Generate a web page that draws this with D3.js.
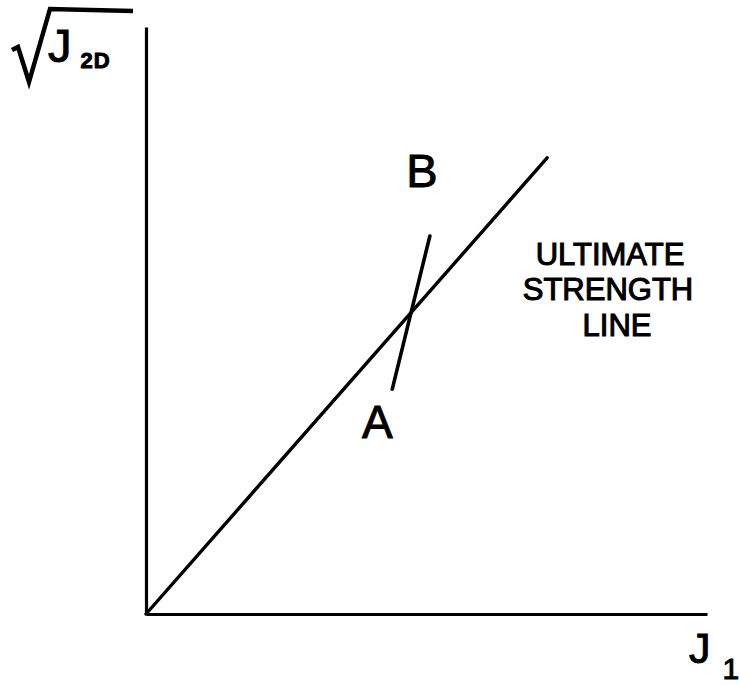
<!DOCTYPE html>
<html>
<head>
<meta charset="utf-8">
<script src="https://cdn.jsdelivr.net/npm/d3@7"></script>
<style>
  html, body { margin: 0; padding: 0; background: #fff; }
  svg { display: block; }
  text { font-family: "Liberation Sans", Arial, sans-serif; fill: #000; }
</style>
</head>
<body>
<svg id="chart" width="739" height="685"></svg>
<script>
// Schematic invariant space: first stress invariant J1 against sqrt(J2D)
const axisDomain = [0, 100];
// Ultimate strength line, from the origin outwards
const strengthLineJ1 = [0, 71.5];
const strengthLineSqrtJ2D = [0, 77.7];
// Stress path segment crossing the strength line, A below and B above
const pathLabels = ["A", "B"];
const pathJ1 = [43.9, 50.6];
const pathSqrtJ2D = [38.3, 64.4];
const curveLabel = ["ULTIMATE", "STRENGTH", "LINE"];

const svg = d3.select("#chart");
const x = d3.scaleLinear().domain(axisDomain).range([146, 707]);
const y = d3.scaleLinear().domain(axisDomain).range([614, 27]);

const ink = "#000";

// Axes: plain lines without ticks
const xAxis = d3.axisBottom(x).tickValues([]).tickSizeOuter(0);
const yAxis = d3.axisLeft(y).tickValues([]).tickSizeOuter(0);
svg.append("g").attr("transform", `translate(0,${y(0)})`).call(xAxis)
  .select(".domain").attr("stroke", ink).attr("stroke-width", 3.2);
svg.append("g").attr("transform", `translate(${x(0)},0)`).call(yAxis)
  .select(".domain").attr("stroke", ink).attr("stroke-width", 3.2);

const line = d3.line().x(d => x(d[0])).y(d => y(d[1]));

// Ultimate strength line
svg.append("path")
  .datum(d3.zip(strengthLineJ1, strengthLineSqrtJ2D))
  .attr("d", line)
  .attr("fill", "none").attr("stroke", ink).attr("stroke-width", 3.4)
  .attr("stroke-linecap", "round");

// Stress path A -> B
svg.append("path")
  .datum(d3.zip(pathJ1, pathSqrtJ2D))
  .attr("d", line)
  .attr("fill", "none").attr("stroke", ink).attr("stroke-width", 3.6)
  .attr("stroke-linecap", "round");

// Point labels
svg.append("text").text(pathLabels[0])
  .attr("x", x(pathJ1[0]) - 15).attr("y", y(pathSqrtJ2D[0]) + 49)
  .attr("text-anchor", "middle").attr("font-size", 46)
  .attr("stroke", ink).attr("stroke-width", 1);
svg.append("text").text(pathLabels[1])
  .attr("x", x(pathJ1[1]) - 8).attr("y", y(pathSqrtJ2D[1]) - 49)
  .attr("text-anchor", "middle").attr("font-size", 47)
  .attr("stroke", ink).attr("stroke-width", 1);

// Curve annotation
const noteX = [610, 608, 617];
const noteY = [265, 300, 336];
svg.append("g").selectAll("text").data(curveLabel).join("text")
  .text(d => d)
  .attr("x", (d, i) => noteX[i]).attr("y", (d, i) => noteY[i])
  .attr("text-anchor", "middle").attr("font-size", 31)
  .attr("stroke", ink).attr("stroke-width", 1.1);

// Horizontal axis title: J with subscript 1
const xt = svg.append("text").attr("x", 689).attr("y", 663)
  .attr("stroke", ink).attr("stroke-width", 1);
xt.append("tspan").attr("font-size", 43).text("J");
xt.append("tspan").attr("font-size", 30).attr("dx", 12).attr("dy", 16).text("1");

// Vertical axis title: square root of J with subscript 2D
svg.append("path")
  .attr("d", "M12,50 L18,47 L29,82 L50,9 L133,11")
  .attr("fill", "none").attr("stroke", ink).attr("stroke-width", 4.5)
  .attr("stroke-linejoin", "miter");
const yt = svg.append("text").attr("x", 48).attr("y", 62)
  .attr("stroke", ink).attr("stroke-width", 1);
yt.append("tspan").attr("font-size", 47).text("J");
yt.append("tspan").attr("font-size", 22).attr("font-weight", "bold")
  .attr("dx", 9).attr("dy", 6).attr("letter-spacing", 1).text("2D");
</script>
</body>
</html>
